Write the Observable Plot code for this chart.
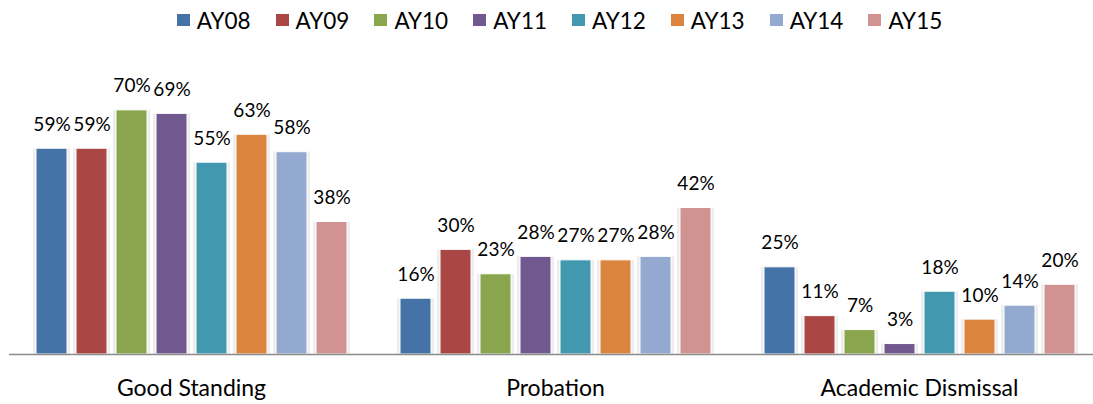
<!DOCTYPE html>
<html>
<head>
<meta charset="utf-8">
<script src="https://cdn.jsdelivr.net/npm/d3@7"></script>
<script src="https://cdn.jsdelivr.net/npm/@observablehq/plot@0.6"></script>
<style>
  html, body { margin: 0; padding: 0; background: #fff; overflow: hidden; }
  body { width: 1093px; height: 404px; font-family: Lato, "Open Sans", sans-serif; }
  #legend { height: 40px; display: flex; justify-content: center; align-items: center; padding-left: 26px; box-sizing: border-box; }
  .item { display: flex; align-items: center; margin: 0 12.5px; font-size: 22.5px; color: #000; }
  .sw { width: 13px; height: 12px; margin-right: 7px; }
</style>
</head>
<body>
<div id="legend"></div>
<div id="chart"></div>
<script>
const categories = ["Good Standing", "Probation", "Academic Dismissal"];
const series = ["AY08", "AY09", "AY10", "AY11", "AY12", "AY13", "AY14", "AY15"];
const colors = ["#4572A7", "#AA4643", "#89A54E", "#71588F", "#4198AF", "#DB843D", "#93A9CF", "#D19392"];
const goodStanding = [59, 59, 70, 69, 55, 63, 58, 38];
const probation = [16, 30, 23, 28, 27, 27, 28, 42];
const dismissal = [25, 11, 7, 3, 18, 10, 14, 20];

const valuesByCategory = [goodStanding, probation, dismissal];
const data = [];
categories.forEach((c, i) => {
  series.forEach((s, j) => data.push({cat: c, series: s, value: valuesByCategory[i][j]}));
});

const legend = document.getElementById("legend");
series.forEach((s, j) => {
  const it = document.createElement("div");
  it.className = "item";
  const sw = document.createElement("div");
  sw.className = "sw";
  sw.style.background = colors[j];
  it.appendChild(sw);
  const t = document.createElement("span");
  t.textContent = s;
  it.appendChild(t);
  legend.appendChild(it);
});

const chart = Plot.plot({
  width: 1093,
  height: 364,
  marginLeft: 8,
  marginRight: -8,
  marginTop: 35,
  marginBottom: 50,
  style: {fontFamily: "Lato, sans-serif", background: "white", color: "black", overflow: "visible"},
  fx: {domain: categories, padding: 0, label: null},
  x: {domain: series, paddingInner: 0.23, paddingOuter: 0.63, axis: null},
  y: {domain: [0, 80], axis: null},
  color: {domain: series, range: colors},
  marks: [
    Plot.barY(data, {fx: "cat", x: "series", y: "value", fill: "#000", fillOpacity: 0.07, insetLeft: -3, insetRight: -3}),
    Plot.barY(data, {fx: "cat", x: "series", y: "value", fill: "series", stroke: "white", strokeWidth: 1}),
    Plot.text(data, {fx: "cat", x: "series", y: "value", text: d => d.value + "%", dy: -24, fontSize: 19, fill: "#000"}),
    Plot.ruleY([0], {stroke: "#8c8c8c", strokeWidth: 1.5}),
    Plot.axisFx({anchor: "bottom", tickSize: 0, tickPadding: 25, fontSize: 23, label: null, fill: "#000"})
  ]
});
document.getElementById("chart").appendChild(chart);
</script>
</body>
</html>
